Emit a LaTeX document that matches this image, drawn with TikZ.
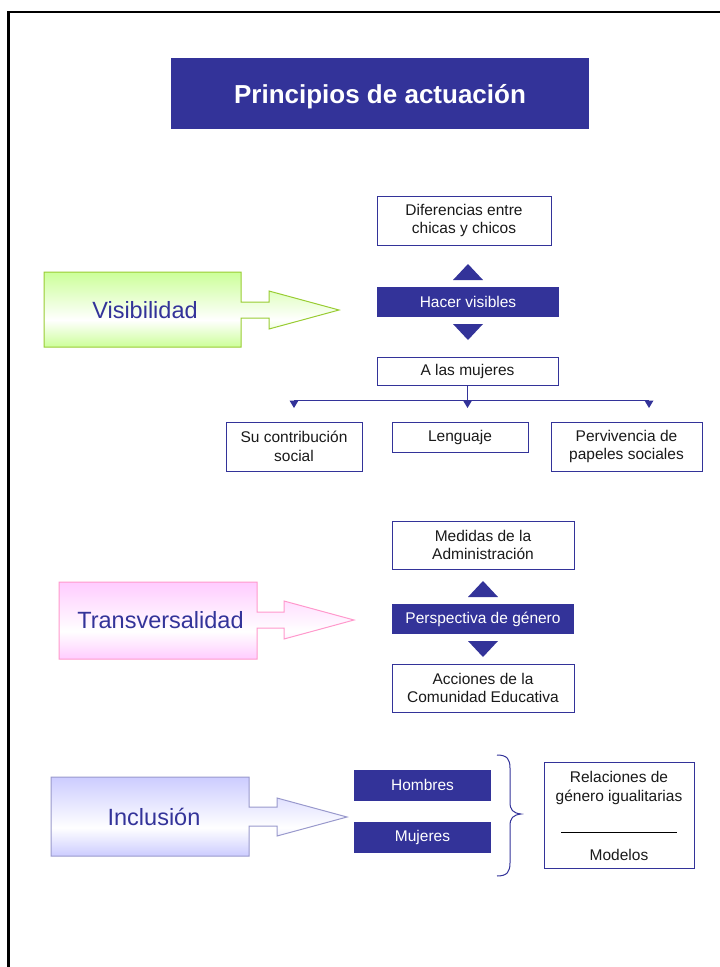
\documentclass[tikz,border=0pt]{standalone}
\usepackage{fontspec}
\setmainfont{Liberation Sans}
\definecolor{navy}{HTML}{333399}
\definecolor{greenfill}{HTML}{CCFF99}
\definecolor{greenline}{HTML}{99CC33}
\definecolor{pinkfill}{HTML}{FFCCFF}
\definecolor{pinkline}{HTML}{FF99CC}
\definecolor{lavfill}{HTML}{CCCCFF}
\definecolor{lavline}{HTML}{9999CC}
\definecolor{txt}{HTML}{1A1A1A}
\pgfdeclareverticalshading{greensh}{100bp}{color(0bp)=(greenfill); color(25bp)=(greenfill); color(43bp)=(white); color(75bp)=(greenfill); color(100bp)=(greenfill)}
\pgfdeclareverticalshading{pinksh}{100bp}{color(0bp)=(pinkfill); color(25bp)=(pinkfill); color(43bp)=(white); color(75bp)=(pinkfill); color(100bp)=(pinkfill)}
\pgfdeclareverticalshading{lavsh}{100bp}{color(0bp)=(lavfill); color(25bp)=(lavfill); color(43bp)=(white); color(75bp)=(lavfill); color(100bp)=(lavfill)}
\newcommand\myfs{\fontsize{15.5}{18.5}\selectfont}
\newcommand\bigfs{\fontsize{23.5}{28}\selectfont}
\begin{document}
\begin{tikzpicture}[x=1pt,y=-1pt,
  wbox/.style={draw=navy, line width=1pt, fill=white, text=txt, font=\myfs, align=center, inner sep=0pt},
  nbox/.style={fill=navy, text=white, font=\myfs, align=center, inner sep=0pt},
  tri/.style={fill=navy},
  treeline/.style={draw=navy, line width=1.2pt},
  bigtxt/.style={text=navy, font=\bigfs, inner sep=0pt}]
\useasboundingbox (0,0) rectangle (720,967);
% frame
\draw[line width=2.5pt] (8.5,968) -- (8.5,12) -- (721,12);
% title
\node[nbox, minimum width=418pt, minimum height=71pt, text depth=0pt, font=\fontsize{26}{30}\selectfont\bfseries] (title) at (380,93.5) {Principios de actuación};

% ---------- Visibilidad ----------
\shade[shading=greensh]
  (44,272) -- (241,272) -- (241,302) -- (269,302) -- (269,291) -- (339,310) -- (269,329) -- (269,318) -- (241,318) -- (241,347) -- (44,347) -- cycle;
\draw[greenline, line width=1pt]
  (44,272) -- (241,272) -- (241,302) -- (269,302) -- (269,291) -- (339,310) -- (269,329) -- (269,318) -- (241,318) -- (241,347) -- (44,347) -- cycle;
\node[bigtxt] (vis) at (145,310) {Visibilidad};

\node[wbox, minimum width=174pt, minimum height=49pt] (dif) at (464,220.5) {Diferencias entre\\chicas y chicos};
\node[nbox, minimum width=182pt, minimum height=30pt] (hacer) at (468,302) {Hacer visibles};
\node[wbox, minimum width=181pt, minimum height=28pt] (alas) at (467.5,371) {A las mujeres};
\fill[tri] (453,280) -- (468,264) -- (483,280) -- cycle;
\fill[tri] (453,324) -- (468,340) -- (483,324) -- cycle;

\node[wbox, minimum width=136pt, minimum height=49pt] (contrib) at (294,446.5) {Su contribución\\social};
\node[wbox, minimum width=136pt, minimum height=30pt] (leng) at (460,437) {Lenguaje};
\node[wbox, minimum width=151pt, minimum height=49pt] (perv) at (626.5,446.5) {Pervivencia de\\papeles sociales};

\coordinate (bmid) at (467.5,400.5);
\coordinate (bl) at (294,400.5);
\coordinate (br) at (649,400.5);
\draw[treeline] (alas.south) -- (bmid);
\draw[treeline] (bl) -- (br);
\foreach \c in {bl,bmid,br}{
  \fill[tri] ([xshift=-4.5pt]\c) -- ([xshift=4.5pt]\c) -- ([yshift=-7.5pt]\c) -- cycle;
}

% ---------- Transversalidad ----------
\shade[shading=pinksh]
  (59,582) -- (257,582) -- (257,612) -- (284,612) -- (284,601) -- (354,620) -- (284,639) -- (284,628) -- (257,628) -- (257,659) -- (59,659) -- cycle;
\draw[pinkline, line width=1pt]
  (59,582) -- (257,582) -- (257,612) -- (284,612) -- (284,601) -- (354,620) -- (284,639) -- (284,628) -- (257,628) -- (257,659) -- (59,659) -- cycle;
\node[bigtxt] (trans) at (160.5,620) {Transversalidad};

\node[wbox, minimum width=182pt, minimum height=48pt] (medidas) at (483,545) {Medidas de la\\Administración};
\node[nbox, minimum width=182pt, minimum height=30pt] (persp) at (483,619) {Perspectiva de género};
\node[wbox, minimum width=182pt, minimum height=48pt] (acciones) at (483,688) {Acciones de la\\Comunidad Educativa};
\fill[tri] (468,597) -- (483,581) -- (498,597) -- cycle;
\fill[tri] (468,641) -- (483,657) -- (498,641) -- cycle;

% ---------- Inclusión ----------
\shade[shading=lavsh]
  (51,777) -- (249,777) -- (249,807) -- (277,807) -- (277,798) -- (347,817) -- (277,836) -- (277,826) -- (249,826) -- (249,856) -- (51,856) -- cycle;
\draw[lavline, line width=1pt]
  (51,777) -- (249,777) -- (249,807) -- (277,807) -- (277,798) -- (347,817) -- (277,836) -- (277,826) -- (249,826) -- (249,856) -- (51,856) -- cycle;
\node[bigtxt] (incl) at (154,817) {Inclusión};

\node[nbox, minimum width=137pt, minimum height=31pt] (hombres) at (422.5,785) {Hombres};
\node[nbox, minimum width=137pt, minimum height=31pt] (mujeres) at (422.5,837.5) {Mujeres};

\draw[navy, line width=1pt] (497,755) .. controls (507,755) and (510,759) .. (510,768) -- (510,802)
  .. controls (510,810) and (513,813) .. (521,814)
  .. controls (513,815) and (510,818) .. (510,826) -- (510,863)
  .. controls (510,872) and (507,876) .. (497,876);

\node[wbox, minimum width=150pt, minimum height=106pt] (rel) at (619,815) {};
\node[text=txt, font=\myfs, align=center, inner sep=0pt] (relt) at (619,788) {Relaciones de\\género igualitarias};
\node[text=txt, font=\myfs, inner sep=0pt] (modelos) at (619,855) {Modelos};
\draw[black, line width=0.9pt] (561,832.5) -- (677,832.5);
\end{tikzpicture}
\end{document}
